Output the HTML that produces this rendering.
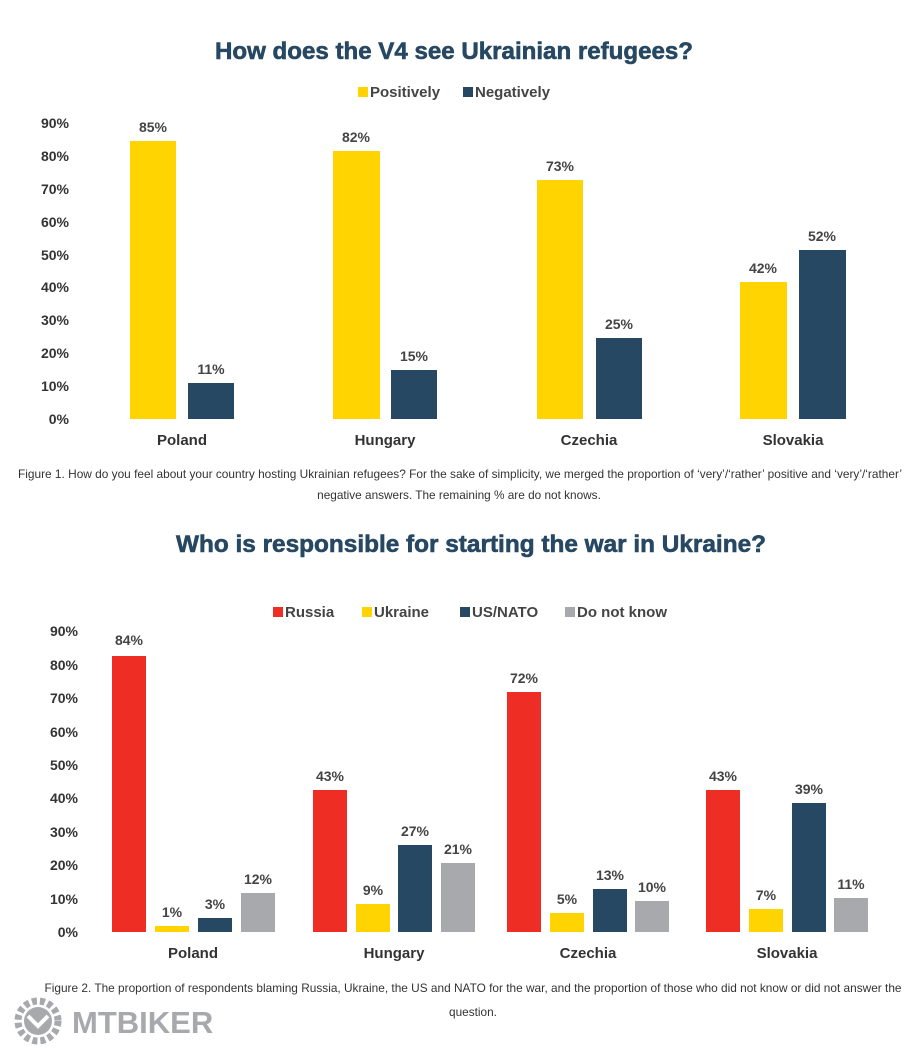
<!DOCTYPE html>
<html><head><meta charset="utf-8"><style>
html,body{margin:0;padding:0;background:#fff;}
svg{display:block;font-family:"Liberation Sans",sans-serif;}
.t{font-weight:bold;fill:#274862;font-size:24px;text-anchor:middle;stroke:#274862;stroke-width:0.6}
.ax{font-weight:bold;fill:#333;font-size:14px;text-anchor:end}
.v{font-weight:bold;fill:#444;font-size:14px;text-anchor:middle}
.c{font-weight:bold;fill:#333;font-size:15px;text-anchor:middle}
.lg{font-weight:bold;fill:#444;font-size:15px}
.cap{fill:#333;font-size:11.8px;text-anchor:middle}
</style></head><body>
<svg width="916" height="1057" viewBox="0 0 916 1057">
<text class="t" x="454" y="59" textLength="478" lengthAdjust="spacingAndGlyphs">How does the V4 see Ukrainian refugees?</text>
<rect x="358" y="87" width="10" height="10" fill="#FFD400"/><text class="lg" x="370" y="97">Positively</text>
<rect x="463" y="87" width="10" height="10" fill="#274862"/><text class="lg" x="475" y="97">Negatively</text>
<g>
<text class="ax" x="69" y="424">0%</text><text class="ax" x="69" y="391">10%</text><text class="ax" x="69" y="358">20%</text><text class="ax" x="69" y="325">30%</text><text class="ax" x="69" y="292">40%</text><text class="ax" x="69" y="260">50%</text><text class="ax" x="69" y="227">60%</text><text class="ax" x="69" y="194">70%</text><text class="ax" x="69" y="161">80%</text><text class="ax" x="69" y="128">90%</text>
</g>
<rect x="130" y="141" width="46" height="278" fill="#FFD400"/><rect x="188" y="383" width="46" height="36" fill="#274862"/>
<rect x="333" y="151" width="47" height="268" fill="#FFD400"/><rect x="391" y="370" width="46" height="49" fill="#274862"/>
<rect x="537" y="180" width="46" height="239" fill="#FFD400"/><rect x="596" y="338" width="46" height="81" fill="#274862"/>
<rect x="740" y="282" width="47" height="137" fill="#FFD400"/><rect x="799" y="250" width="47" height="169" fill="#274862"/>
<text class="v" x="153" y="132">85%</text><text class="v" x="211" y="374">11%</text>
<text class="v" x="356" y="142">82%</text><text class="v" x="414" y="361">15%</text>
<text class="v" x="560" y="171">73%</text><text class="v" x="619" y="329">25%</text>
<text class="v" x="763" y="273">42%</text><text class="v" x="822" y="241">52%</text>
<text class="c" x="182" y="445">Poland</text><text class="c" x="385" y="445">Hungary</text><text class="c" x="589" y="445">Czechia</text><text class="c" x="793" y="445">Slovakia</text>
<text class="cap" x="460" y="478" textLength="884" lengthAdjust="spacingAndGlyphs">Figure 1. How do you feel about your country hosting Ukrainian refugees? For the sake of simplicity, we merged the proportion of ‘very’/‘rather’ positive and ‘very’/‘rather’</text>
<text class="cap" x="459" y="499">negative answers. The remaining % are do not knows.</text>

<text class="t" x="471" y="552" textLength="590" lengthAdjust="spacingAndGlyphs">Who is responsible for starting the war in Ukraine?</text>
<rect x="273" y="607" width="10" height="10" fill="#EE2E24"/><text class="lg" x="285" y="617">Russia</text>
<rect x="362" y="607" width="10" height="10" fill="#FFD400"/><text class="lg" x="374" y="617">Ukraine</text>
<rect x="460" y="607" width="10" height="10" fill="#274862"/><text class="lg" x="472" y="617">US/NATO</text>
<rect x="565" y="607" width="10" height="10" fill="#A7A9AC"/><text class="lg" x="577" y="617">Do not know</text>
<g>
<text class="ax" x="78" y="937">0%</text><text class="ax" x="78" y="904">10%</text><text class="ax" x="78" y="870">20%</text><text class="ax" x="78" y="837">30%</text><text class="ax" x="78" y="803">40%</text><text class="ax" x="78" y="770">50%</text><text class="ax" x="78" y="737">60%</text><text class="ax" x="78" y="703">70%</text><text class="ax" x="78" y="670">80%</text><text class="ax" x="78" y="636">90%</text>
</g>
<rect x="112" y="656" width="34" height="276" fill="#EE2E24"/><rect x="155" y="926" width="34" height="6" fill="#FFD400"/><rect x="198" y="918" width="34" height="14" fill="#274862"/><rect x="241" y="893" width="34" height="39" fill="#A7A9AC"/>
<rect x="313" y="790" width="34" height="142" fill="#EE2E24"/><rect x="356" y="904" width="34" height="28" fill="#FFD400"/><rect x="398" y="845" width="34" height="87" fill="#274862"/><rect x="441" y="863" width="34" height="69" fill="#A7A9AC"/>
<rect x="507" y="692" width="34" height="240" fill="#EE2E24"/><rect x="550" y="913" width="34" height="19" fill="#FFD400"/><rect x="593" y="889" width="34" height="43" fill="#274862"/><rect x="635" y="901" width="34" height="31" fill="#A7A9AC"/>
<rect x="706" y="790" width="34" height="142" fill="#EE2E24"/><rect x="749" y="909" width="34" height="23" fill="#FFD400"/><rect x="792" y="803" width="34" height="129" fill="#274862"/><rect x="834" y="898" width="34" height="34" fill="#A7A9AC"/>
<text class="v" x="129" y="645">84%</text><text class="v" x="172" y="917">1%</text><text class="v" x="215" y="909">3%</text><text class="v" x="258" y="884">12%</text>
<text class="v" x="330" y="781">43%</text><text class="v" x="373" y="895">9%</text><text class="v" x="415" y="836">27%</text><text class="v" x="458" y="854">21%</text>
<text class="v" x="524" y="683">72%</text><text class="v" x="567" y="904">5%</text><text class="v" x="610" y="880">13%</text><text class="v" x="652" y="892">10%</text>
<text class="v" x="723" y="781">43%</text><text class="v" x="766" y="900">7%</text><text class="v" x="809" y="794">39%</text><text class="v" x="851" y="889">11%</text>
<text class="c" x="193" y="958">Poland</text><text class="c" x="394" y="958">Hungary</text><text class="c" x="588" y="958">Czechia</text><text class="c" x="787" y="958">Slovakia</text>
<text class="cap" x="473" y="992" textLength="857" lengthAdjust="spacingAndGlyphs">Figure 2. The proportion of respondents blaming Russia, Ukraine, the US and NATO for the war, and the proportion of those who did not know or did not answer the</text>
<text class="cap" x="473" y="1016">question.</text>
<g fill="#A7A9AC">
<circle cx="38" cy="1021" r="20" fill="none" stroke="#A7A9AC" stroke-width="7" stroke-dasharray="5 3"/>
<circle cx="38" cy="1021" r="14" fill="#A7A9AC"/>
<path d="M28 1016 L38 1026 L48 1016" stroke="#fff" stroke-width="4" fill="none"/>
<text x="72" y="1033" font-size="31" font-weight="bold" fill="#A7A9AC">MTBIKER</text>
</g>
</svg>
</body></html>
